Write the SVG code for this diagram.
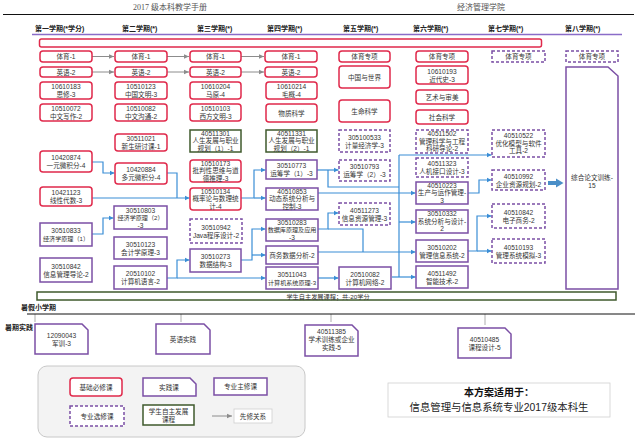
<svg xmlns="http://www.w3.org/2000/svg" width="640" height="441" viewBox="0 0 640 441">
<style>
.r{fill:#fff;stroke:#e0294b;stroke-width:1.5}
.p{fill:#fff;stroke:#7b4fa5;stroke-width:1.5}
.d{fill:#fff;stroke:#7b4fa5;stroke-width:1.5;stroke-dasharray:3 2}
.g{fill:#fff;stroke:#3f5a2c;stroke-width:1.5}
text{font-family:"Liberation Sans","Noto Sans CJK SC",sans-serif;fill:#333}
.t{font-size:6.6px;text-anchor:middle}
.s{font-size:6.1px;text-anchor:middle}
.h{font-size:7px;font-weight:bold;fill:#222}
.c{fill:none;stroke:#3a8ed6;stroke-width:1.2;marker-end:url(#a)}
.c0{fill:none;stroke:#3a8ed6;stroke-width:1.2}
.gy{fill:none;stroke:#8c8c8c;stroke-width:1;marker-end:url(#ag)}
</style>
<defs>
<marker id="a" markerUnits="userSpaceOnUse" markerWidth="6" markerHeight="6" refX="5" refY="3" orient="auto"><path d="M0,0.5 L5,3 L0,5.5 Z" fill="#3a8ed6"/></marker>
<marker id="ag" markerUnits="userSpaceOnUse" markerWidth="6" markerHeight="6" refX="5" refY="3" orient="auto"><path d="M0,0.8 L5,3 L0,5.2 Z" fill="#8c8c8c"/></marker>
</defs>
<rect width="640" height="441" fill="#fff"/>
<g id="header">
<text x="170" y="10" style="font-family:'Liberation Serif','Noto Sans CJK SC',serif;font-size:8px;fill:#555;text-anchor:middle">2017 级本科教学手册</text>
<text x="481" y="10" style="font-family:'Liberation Serif','Noto Sans CJK SC',serif;font-size:8px;fill:#555;text-anchor:middle">经济管理学院</text>
<line x1="3" y1="14.5" x2="634" y2="14.5" stroke="#111" stroke-width="1"/>
<text class="h" x="35" y="31">第一学期(*学分)</text>
<text class="h" x="122" y="31">第二学期(*)</text>
<text class="h" x="197" y="31">第三学期(*)</text>
<text class="h" x="267" y="31">第四学期(*)</text>
<text class="h" x="343" y="31">第五学期(*)</text>
<text class="h" x="413" y="31">第六学期(*)</text>
<text class="h" x="488" y="31">第七学期(*)</text>
<text class="h" x="565" y="31">第八学期(*)</text>
<line x1="32" y1="34.5" x2="622" y2="34.5" stroke="#8a6cc8" stroke-width="1.5"/>
<rect class="r" x="39.5" y="39" width="502" height="8" rx="2"/>
</g>
<g id="connectors">
<path class="gy" d="M92,56.5 H114"/><path class="gy" d="M167,56.5 H189"/><path class="gy" d="M241,56.5 H264"/>
<path class="gy" d="M92,72 H114"/><path class="gy" d="M167,72 H189"/><path class="gy" d="M241,72 H264"/>
<path class="c" d="M92,162 H103 V173 H114.5"/>
<path class="c0" d="M167,173 H177 V198"/>
<path class="c" d="M92,198 H189.5"/>
<path class="c" d="M92,234 H103 V218 H113.5"/>
<path class="c" d="M167,278 H177 V260 H189.5"/>
<path class="c" d="M177,278 H265.5"/>
<path class="c" d="M241,198 H254 V170 H265.5"/>
<path class="c" d="M254,198 H265.5"/>
<path class="c" d="M241,260 H252 V229 H265.5"/>
<path class="c" d="M252,255 H265.5"/>
<path class="c" d="M318,278 H338.5"/>
<path class="c" d="M317,170 H338.5"/>
<path class="c0" d="M328,170 V187 H399"/>
<path class="c" d="M318,193 H415.5"/>
<path class="c0" d="M399,155 V277"/>
<path class="c" d="M399,155 H491.5"/>
<path class="c" d="M399,222 H415.5"/>
<path class="c" d="M392,277 H415.5"/>
<path class="c" d="M318,229 H328 V213 H338.5"/>
<path class="c0" d="M328,229 H363 V252"/>
<path class="c" d="M318,252 H415.5"/>
<path class="c" d="M468,193 H479 V180 H491.5"/>
<path class="c" d="M468,251 H477 V216 H491.5"/>
<path class="c" d="M477,251 H491.5"/>
<path d="M548,183 H557" stroke="#4a8fc8" stroke-width="4" fill="none"/>
<path d="M556,178.5 L563.5,183 L556,187.5 Z" fill="#4a8fc8"/>
<path d="M35,314 V322 M181,314 V322 M331,314 V322 M485,314 V325" stroke="#999" stroke-width="0.8" fill="none"/>
</g>
<g id="c1">
<g id="n1a"><rect class="r" x="40" y="51" width="52" height="11" rx="3"/><text class="t" x="66" y="59">体育-1</text></g>
<g id="n1b"><rect class="r" x="40" y="67" width="52" height="10" rx="3"/><text class="t" x="66" y="74.5">英语-2</text></g>
<g id="n1c"><rect class="r" x="40" y="82" width="52" height="17" rx="3"/><text class="t" x="66" y="89.1">10610183</text><text class="t" x="66" y="97.1">思修-3</text></g>
<g id="n1d"><rect class="r" x="40" y="104" width="52" height="17" rx="3"/><text class="t" x="66" y="111.1">10510072</text><text class="t" x="66" y="119.1">中文写作-2</text></g>
<g id="n1e"><rect class="r" x="40" y="151" width="52" height="21" rx="3"/><text class="t" x="66" y="160.1">10420874</text><text class="t" x="66" y="168.1">一元微积分-4</text></g>
<g id="n1f"><rect class="r" x="40" y="187" width="52" height="19" rx="3"/><text class="t" x="66" y="195.1">10421123</text><text class="t" x="66" y="203.1">线性代数-3</text></g>
<g id="n1g"><rect class="p" x="40" y="223" width="52" height="23"/><text class="t" x="66" y="233.1">30510833</text><text class="s" x="66" y="241.1">经济学原理（1）</text></g>
<g id="n1h"><rect class="p" x="40" y="258" width="52" height="24"/><text class="t" x="66" y="268.6">30510842</text><text class="t" x="66" y="276.6">信息管理导论-2</text></g>
</g>
<g id="c2">
<g id="n2a"><rect class="r" x="115" y="51" width="52" height="11" rx="3"/><text class="t" x="141" y="59">体育-1</text></g>
<g id="n2b"><rect class="r" x="115" y="67" width="52" height="10" rx="3"/><text class="t" x="141" y="74.5">英语-2</text></g>
<g id="n2c"><rect class="r" x="115" y="82" width="52" height="17" rx="3"/><text class="t" x="141" y="89.1">10510123</text><text class="t" x="141" y="97.1">中国文明-3</text></g>
<g id="n2d"><rect class="r" x="115" y="104" width="52" height="17" rx="3"/><text class="t" x="141" y="111.1">10510082</text><text class="t" x="141" y="119.1">中文沟通-2</text></g>
<g id="n2e"><rect class="r" x="115" y="134" width="52" height="17" rx="3"/><text class="t" x="141" y="141.1">30511021</text><text class="t" x="141" y="149.1">新生研讨课-1</text></g>
<g id="n2f"><rect class="r" x="115" y="163" width="52" height="21" rx="3"/><text class="t" x="141" y="172.1">10420884</text><text class="t" x="141" y="180.1">多元微积分-4</text></g>
<g id="n2g"><rect class="p" x="114" y="206" width="53" height="23"/><text class="t" x="140.5" y="212.6">30510803</text><text class="s" x="140.5" y="220.1">经济学原理（2）</text><text class="t" x="140.5" y="227.6">-3</text></g>
<g id="n2h"><rect class="p" x="114" y="237" width="53" height="22"/><text class="t" x="140.5" y="246.6">30510123</text><text class="t" x="140.5" y="254.6">会计学原理-3</text></g>
<g id="n2i"><rect class="p" x="114" y="266" width="53" height="23"/><text class="t" x="140.5" y="276.1">20510102</text><text class="t" x="140.5" y="284.1">计算机语言-2</text></g>
</g>
<g id="c3">
<g id="n3a"><rect class="r" x="190" y="51" width="51" height="11" rx="3"/><text class="t" x="215.5" y="59">体育-1</text></g>
<g id="n3b"><rect class="r" x="190" y="67" width="51" height="10" rx="3"/><text class="t" x="215.5" y="74.5">英语-2</text></g>
<g id="n3c"><rect class="r" x="190" y="82" width="51" height="17" rx="3"/><text class="t" x="215.5" y="89.1">10610204</text><text class="t" x="215.5" y="97.1">马原-4</text></g>
<g id="n3d"><rect class="r" x="190" y="104" width="51" height="17" rx="3"/><text class="t" x="215.5" y="111.1">10510103</text><text class="t" x="215.5" y="119.1">西方文明-3</text></g>
<g id="n3e"><rect class="g" x="190" y="130" width="51" height="22"/><text class="t" x="215.5" y="135.9">40511301</text><text class="t" x="215.5" y="143.4">人生发展与职业</text><text class="t" x="215.5" y="150.9">规划（1）-1</text></g>
<g id="n3f"><rect class="r" x="190" y="160" width="51" height="22" rx="3"/><text class="t" x="215.5" y="165.9">10510173</text><text class="t" x="215.5" y="173.4">批判性思维与道</text><text class="t" x="215.5" y="180.9">德推理-3</text></g>
<g id="n3g"><rect class="r" x="190" y="188" width="51" height="22" rx="3"/><text class="t" x="215.5" y="193.9">10510134</text><text class="t" x="215.5" y="201.4">概率论与数理统</text><text class="t" x="215.5" y="208.9">计-4</text></g>
<g id="n3h"><rect class="d" x="190" y="219" width="52" height="24"/><text class="t" x="216" y="229.6">30510942</text><text class="t" x="216" y="237.6">Java程序设计-2</text></g>
<g id="n3i"><rect class="p" x="190" y="249" width="51" height="23"/><text class="t" x="215.5" y="259.1">30510273</text><text class="t" x="215.5" y="267.1">数据结构-3</text></g>
</g>
<g id="c4">
<g id="n4a"><rect class="r" x="265" y="51" width="52" height="11" rx="3"/><text class="t" x="291" y="59">体育-1</text></g>
<g id="n4b"><rect class="r" x="265" y="67" width="52" height="10" rx="3"/><text class="t" x="291" y="74.5">英语-2</text></g>
<g id="n4c"><rect class="r" x="266" y="82" width="51" height="17" rx="3"/><text class="t" x="291.5" y="89.1">10610214</text><text class="t" x="291.5" y="97.1">毛概-4</text></g>
<g id="n4d"><rect class="r" x="266" y="104" width="51" height="18" rx="3"/><text class="t" x="291.5" y="115.6">物质科学</text></g>
<g id="n4e"><rect class="g" x="266" y="130" width="51" height="22"/><text class="t" x="291.5" y="135.9">40511331</text><text class="t" x="291.5" y="143.4">人生发展与职业</text><text class="t" x="291.5" y="150.9">规划（2）-1</text></g>
<g id="n4f"><rect class="p" x="266" y="160" width="51" height="19"/><text class="t" x="291.5" y="168.1">30510773</text><text class="t" x="291.5" y="176.1">运筹学（1）-3</text></g>
<g id="n4g"><rect class="p" x="266" y="188" width="52" height="22"/><text class="t" x="292" y="193.9">40510853</text><text class="t" x="292" y="201.4">动态系统分析与</text><text class="t" x="292" y="208.9">控制-3</text></g>
<g id="n4h"><rect class="p" x="266" y="219" width="52" height="22"/><text class="t" x="292" y="224.9">30510283</text><text class="s" x="292" y="232.4">数据库原理及应用</text><text class="t" x="292" y="239.9">-3</text></g>
<g id="n4i"><rect class="p" x="266" y="246" width="52" height="18"/><text class="t" x="292" y="257.6">商务数据分析-2</text></g>
<g id="n4j"><rect class="p" x="266" y="267" width="52" height="22"/><text class="t" x="292" y="276.6">30511043</text><text class="s" x="292" y="284.6">计算机系统原理-3</text></g>
</g>
<g id="c5">
<g id="n5a"><rect class="r" x="339" y="51" width="51" height="11" rx="3"/><text class="t" x="364.5" y="59">体育专项</text></g>
<g id="n5b"><rect class="r" x="339" y="66" width="51" height="22" rx="3"/><text class="t" x="364.5" y="79.6">中国与世界</text></g>
<g id="n5c"><rect class="r" x="339" y="100" width="51" height="22" rx="3"/><text class="t" x="364.5" y="113.6">生命科学</text></g>
<g id="n5d"><rect class="d" x="339" y="130" width="51" height="22"/><text class="t" x="364.5" y="139.6">305100533</text><text class="t" x="364.5" y="147.6">计量经济学-3</text></g>
<g id="n5e"><rect class="d" x="339" y="160" width="51" height="21"/><text class="t" x="364.5" y="169.1">30510793</text><text class="t" x="364.5" y="177.1">运筹学（2）-3</text></g>
<g id="n5f"><rect class="d" x="339" y="203" width="51" height="22"/><text class="t" x="364.5" y="212.6">40511273</text><text class="t" x="364.5" y="220.6">信息资源管理-3</text></g>
<g id="n5g"><rect class="p" x="339" y="267" width="52" height="22"/><text class="t" x="365" y="276.6">20510082</text><text class="t" x="365" y="284.6">计算机网络-2</text></g>
</g>
<g id="c6">
<g id="n6a"><rect class="r" x="416" y="51" width="52" height="11" rx="3"/><text class="t" x="442" y="59">体育专项</text></g>
<g id="n6b"><rect class="r" x="416" y="66" width="52" height="18" rx="3"/><text class="t" x="442" y="73.6">10610193</text><text class="t" x="442" y="81.6">近代史-3</text></g>
<g id="n6c"><rect class="r" x="416" y="90" width="52" height="14" rx="3"/><text class="t" x="442" y="99.6">艺术与审美</text></g>
<g id="n6d"><rect class="r" x="416" y="110" width="52" height="14" rx="3"/><text class="t" x="442" y="119.6">社会科学</text></g>
<g id="n6e"><rect class="d" x="416" y="130" width="52" height="23"/><text class="t" x="442" y="136.4">40511502</text><text class="t" x="442" y="143.9">管理科学与工程</text><text class="t" x="442" y="151.4">科研导论-2</text></g>
<g id="n6f"><rect class="d" x="416" y="158" width="52" height="19"/><text class="t" x="442" y="166.1">40511323</text><text class="t" x="442" y="174.1">人机接口设计-3</text></g>
<g id="n6g"><rect class="p" x="416" y="182" width="52" height="22"/><text class="t" x="442" y="187.9">40510223</text><text class="t" x="442" y="195.4">生产与运作管理-</text><text class="t" x="442" y="202.9">3</text></g>
<g id="n6h"><rect class="p" x="416" y="210" width="52" height="23"/><text class="t" x="442" y="216.4">30510332</text><text class="t" x="442" y="223.9">系统分析与设计-</text><text class="t" x="442" y="231.4">2</text></g>
<g id="n6i"><rect class="p" x="416" y="240" width="52" height="22"/><text class="t" x="442" y="249.6">30510202</text><text class="t" x="442" y="257.6">管理信息系统-2</text></g>
<g id="n6j"><rect class="p" x="416" y="266" width="52" height="22"/><text class="t" x="442" y="275.6">40511492</text><text class="t" x="442" y="283.6">智能技术-2</text></g>
</g>
<g id="c7">
<g id="n7a"><rect class="d" x="492" y="51" width="53" height="11"/><text class="t" x="518.5" y="59">体育专项</text></g>
<g id="n7b"><rect class="d" x="492" y="130" width="53" height="27"/><text class="t" x="518.5" y="138.4">40510522</text><text class="t" x="518.5" y="145.9">优化模型与软件</text><text class="t" x="518.5" y="153.4">工具-2</text></g>
<g id="n7c"><rect class="d" x="492" y="170" width="53" height="20"/><text class="t" x="518.5" y="178.6">40510992</text><text class="t" x="518.5" y="186.6">企业资源规划-2</text></g>
<g id="n7d"><rect class="d" x="492" y="204" width="53" height="24"/><text class="t" x="518.5" y="214.6">40510842</text><text class="t" x="518.5" y="222.6">电子商务-2</text></g>
<g id="n7e"><rect class="d" x="492" y="239" width="53" height="24"/><text class="t" x="518.5" y="249.6">40510193</text><text class="t" x="518.5" y="257.6">管理系统模拟-3</text></g>
</g>
<g id="c8">
<g id="n8a"><rect class="d" x="566" y="51" width="52" height="11"/><text class="t" x="592" y="59">体育专项</text></g>
<g id="n8b"><path class="p" d="M566,67 H608 L618,76 V289 H566 Z"/><text class="t" x="592" y="180">综合论文训练-</text><text class="t" x="592" y="188">15</text></g>
</g>
<g id="selfdev">
<rect x="37" y="292" width="579" height="8" fill="#fff" stroke="#3f5a2c" stroke-width="1.5"/>
<text x="328" y="298.6" style="font-size:6.2px;text-anchor:middle">学生自主发展课程；共-20学分</text>
</g>
<g id="summer">
<text class="h" x="21" y="310">暑假小学期</text>
<line x1="27" y1="314" x2="635" y2="314" stroke="#111" stroke-width="1"/>
<text class="h" x="5" y="330">暑期实践</text>
<g id="s1"><path class="p" d="M35,324 H82 L88,330 V354 H35 Z"/><text class="t" x="61.5" y="337.6">12090043</text><text class="t" x="61.5" y="345.6">军训-3</text></g>
<g id="s2"><path class="p" d="M156,324 H204 L210,330 V354 H156 Z"/><text class="t" x="183" y="341.6">英语实践</text></g>
<g id="s3"><path class="p" d="M305,325 H352 L358,331 V356 H305 Z"/><text class="t" x="331.5" y="334.4">40511385</text><text class="t" x="331.5" y="342.4">学术训练或企业</text><text class="t" x="331.5" y="350.4">实践-5</text></g>
<g id="s4"><path class="p" d="M458,328 H505 L511,334 V358 H458 Z"/><text class="t" x="484.5" y="341.6">40510485</text><text class="t" x="484.5" y="349.6">课程设计-5</text></g>
</g>
<g id="legend">
<rect x="38" y="366" width="267" height="71" rx="9" fill="#f3f3f3" stroke="#c8c8c8" stroke-width="1"/>
<rect class="r" x="70" y="378" width="52" height="18" rx="3"/><text class="t" x="96" y="389.5">基础必修课</text>
<path class="p" d="M143,378 H190 L196,384 V396 H143 Z"/><text class="t" x="169" y="389.5">实践课</text>
<rect class="p" x="214" y="378" width="53" height="17"/><text class="t" x="240.5" y="389">专业主修课</text>
<rect class="d" x="70" y="406" width="54" height="20"/><text class="t" x="97" y="418.5">专业选修课</text>
<rect class="g" x="143" y="405" width="51" height="20"/><text class="t" x="168.5" y="413.6">学生自主发展</text><text class="t" x="168.5" y="421.6">课程</text>
<path class="gy" d="M212,416 H232"/>
<rect x="234" y="409" width="38" height="14" fill="#fff" stroke="#cfcfcf" stroke-width="0.8"/><text class="t" x="253" y="418.5">先修关系</text>
</g>
<g id="note">
<rect x="388" y="383" width="222" height="34" fill="#fff" stroke="#d0d0d0" stroke-width="0.8"/>
<text x="499" y="396" style="font-size:10px;font-weight:bold;text-anchor:middle;fill:#111">本方案适用于：</text>
<text x="499" y="411" style="font-size:10.4px;text-anchor:middle;fill:#222">信息管理与信息系统专业2017级本科生</text>
</g>
</svg>
